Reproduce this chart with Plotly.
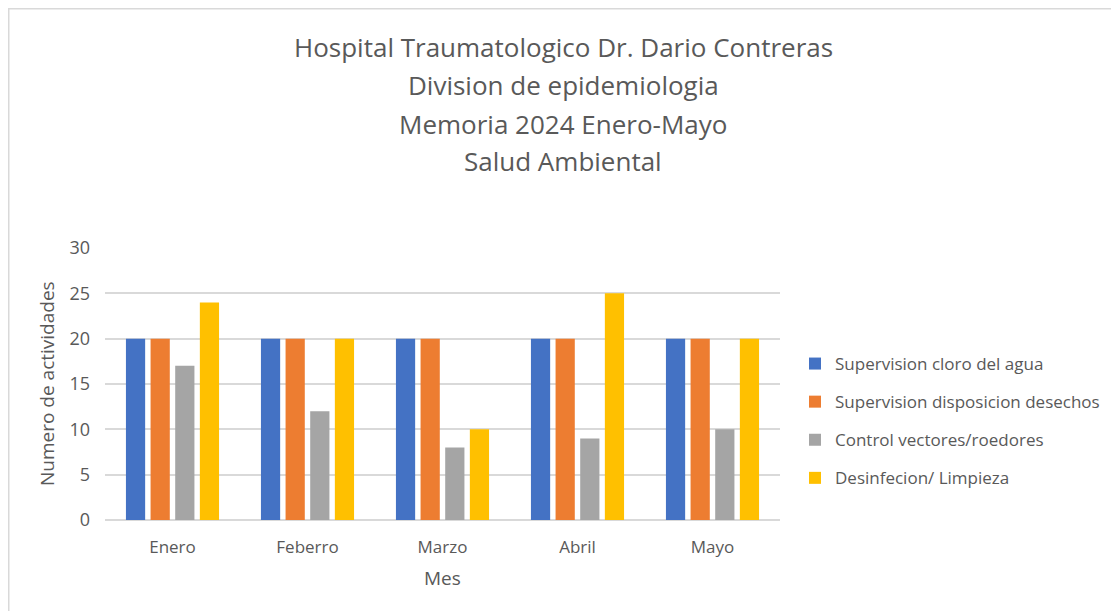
import plotly.graph_objects as go

months = ["Enero", "Feberro", "Marzo", "Abril", "Mayo"]
series_names = ["Supervision cloro del agua", "Supervision disposicion desechos",
                "Control vectores/roedores", "Desinfecion/ Limpieza"]
cloro = [20, 20, 20, 20, 20]
desechos = [20, 20, 20, 20, 20]
vectores = [17, 12, 8, 9, 10]
desinfeccion = [24, 20, 10, 25, 20]
colors = ["#4472C4", "#ED7D31", "#A5A5A5", "#FFC000"]
title_lines = ["Hospital Traumatologico Dr. Dario Contreras", "Division de epidemiologia",
               "Memoria 2024 Enero-Mayo", "Salud Ambiental"]

W, H = 1119, 611
OFF = 8  # page body offset
L, R, T, B = 105 - OFF, 780 - OFF, 248 - OFF, 520 - OFF

fig = go.Figure()
for i, (name, vals) in enumerate(zip(series_names, [cloro, desechos, vectores, desinfeccion])):
    fig.add_trace(go.Bar(x=months, y=vals, name=name, marker_color=colors[i],
                         marker_line_width=0, legendgroup=str(i)))

def px_x(x):
    return (x - OFF - L) / (R - L)

def px_y(y):
    return (B - (y - OFF)) / (B - T)

annotations = []
title_y = [47, 85, 124, 161]
for line, yy in zip(title_lines, title_y):
    annotations.append(dict(text=line, x=px_x(563), y=px_y(yy), xref="paper", yref="paper",
                            showarrow=False, xanchor="center", yanchor="middle",
                            font=dict(family="Open Sans", size=26, color="#595959")))
annotations.append(dict(text="Mes", x=0.5, y=px_y(578), xref="paper", yref="paper",
                        showarrow=False, xanchor="center", yanchor="middle",
                        font=dict(family="Open Sans", size=19, color="#595959")))
annotations.append(dict(text="Numero de actividades", x=px_x(47), y=0.5, xref="paper", yref="paper",
                        showarrow=False, xanchor="center", yanchor="middle", textangle=-90,
                        font=dict(family="Open Sans", size=19, color="#595959")))

fig.update_layout(
    width=W, height=H,
    margin=dict(l=L, r=W - R, t=T, b=H - B, pad=0),
    paper_bgcolor="white", plot_bgcolor="white",
    barmode="group", bargap=0.27, bargroupgap=0.22,
    showlegend=True,
    legend=dict(x=px_x(795), y=px_y(346), xanchor="left", yanchor="top",
                font=dict(family="Open Sans", size=17, color="#595959"),
                traceorder="grouped", tracegroupgap=13, itemwidth=30,
                bgcolor="rgba(0,0,0,0)"),
    annotations=annotations,
    xaxis=dict(showgrid=False, showline=False, ticks="", tickfont=dict(family="Open Sans", size=17, color="#595959"),
               ticklabelstandoff=15),
    yaxis=dict(range=[0, 30], dtick=5, showgrid=True, gridcolor="#D9D9D9", gridwidth=1.5,
               zeroline=True, zerolinecolor="#D9D9D9", zerolinewidth=1.5, showline=False,
               tickfont=dict(family="Open Sans", size=18, color="#595959"), ticks="",
               ticklabelstandoff=14),
    shapes=[dict(type="rect", xref="paper", yref="paper",
                 x0=px_x(OFF + 0.5), x1=px_x(1117), y0=px_y(640), y1=px_y(OFF + 0.5),
                 line=dict(color="#D9D9D9", width=2), layer="below")],
)

fig.write_html("out.html")
